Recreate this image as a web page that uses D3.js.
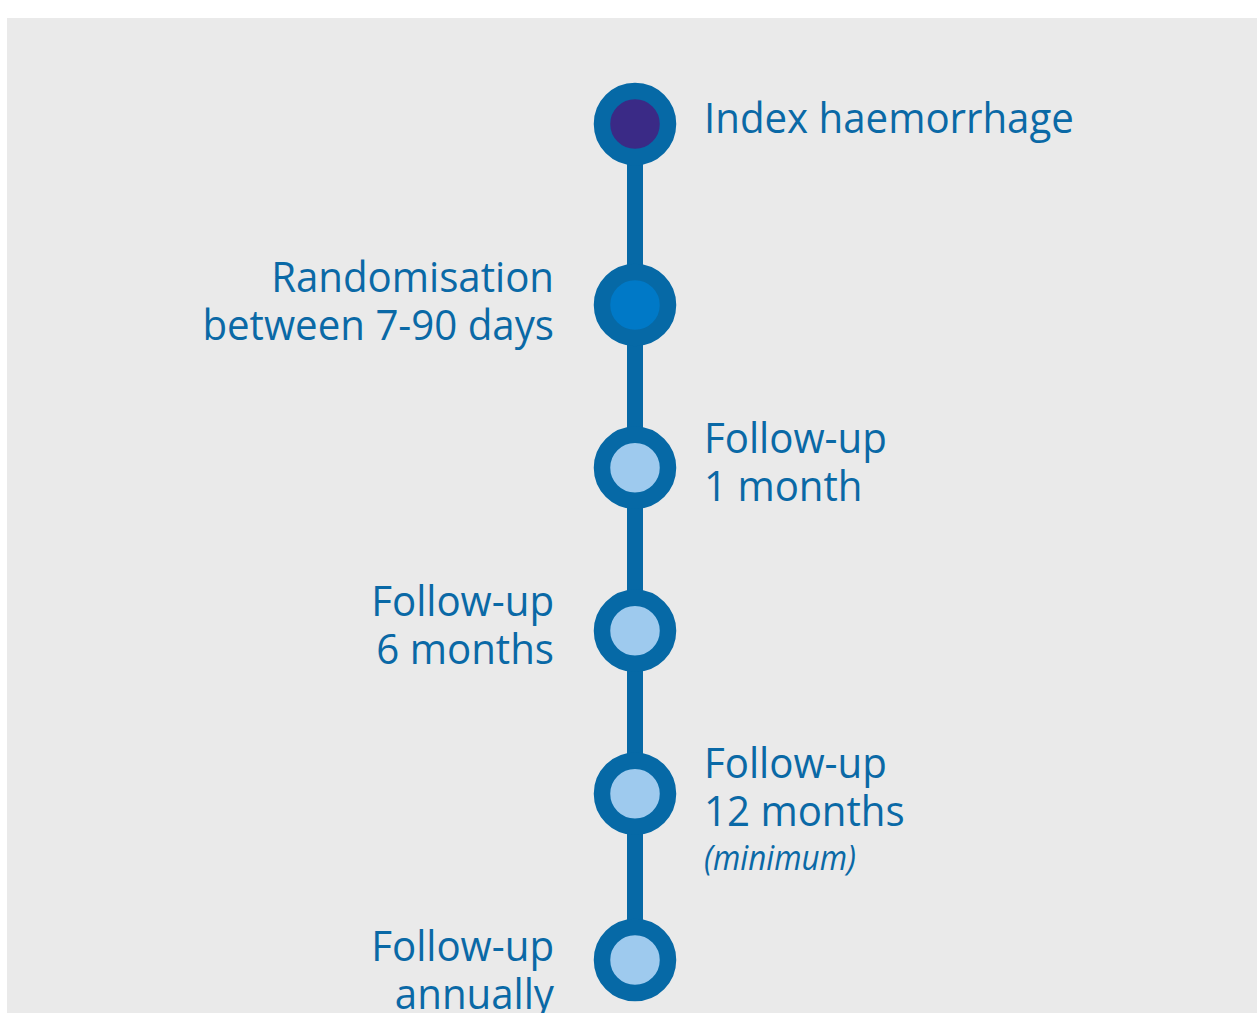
<!DOCTYPE html>
<html>
<head>
<meta charset="utf-8">
<script src="https://cdn.jsdelivr.net/npm/d3@7"></script>
<style>
  body { margin: 0; background: #fff; }
  svg { display: block; }
</style>
</head>
<body>
<div id="timeline"></div>
<script>
// timeline stages, top to bottom
const stages = ["Index haemorrhage", "Randomisation", "Follow-up 1 month", "Follow-up 6 months", "Follow-up 12 months", "Follow-up annually"];
// relative position of each stage along the line (first gap is a bit longer)
const stageStep = [0, 1.11, 2.11, 3.11, 4.11, 5.13];
const stageFill = ["#3a2a86", "#0079c7", "#9ecaee", "#9ecaee", "#9ecaee", "#9ecaee"];
const labelSide = ["right", "left", "right", "left", "right", "left"];
const labelLines = [
    ["Index haemorrhage"],
    ["Randomisation", "between 7-90 days"],
    ["Follow-up", "1 month"],
    ["Follow-up", "6 months"],
    ["Follow-up", "12 months"],
    ["Follow-up", "annually"]
];
const labelNote = ["", "", "", "", "(minimum)", ""];

const W = 1257, H = 1013;
const lineX = 635;
const blue = "#0669a6";
const textBlue = "#0a69a6";
// baseline of first line, relative to the circle centre
const labelShift = [9, -13, -15, -15, -16, 1];

const data = stages.map((s, i) => ({
    name: s, step: stageStep[i], fill: stageFill[i],
    side: labelSide[i], lines: labelLines[i], note: labelNote[i], shift: labelShift[i]
}));

const svg = d3.select("#timeline")
    .append("svg")
    .attr("width", W)
    .attr("height", H);

svg.append("rect")
    .attr("x", 7)
    .attr("y", 18)
    .attr("width", W - 7)
    .attr("height", H - 18)
    .attr("fill", "#eaeaea");

const yScale = d3.scaleLinear()
    .domain([0, 5.13])
    .range([124, 960]);

svg.append("line")
    .attr("x1", lineX)
    .attr("x2", lineX)
    .attr("y1", yScale(d3.min(stageStep)))
    .attr("y2", yScale(d3.max(stageStep)))
    .attr("stroke", blue)
    .attr("stroke-width", 16);

svg.selectAll(".stage")
    .data(data)
    .enter()
    .append("circle")
    .attr("class", "stage")
    .attr("cx", lineX)
    .attr("cy", d => yScale(d.step))
    .attr("r", 33)
    .attr("fill", d => d.fill)
    .attr("stroke", blue)
    .attr("stroke-width", 16.5);

// labels
const fontSize = 42, lineH = 48;
const labels = svg.selectAll(".label")
    .data(data)
    .enter()
    .append("g")
    .attr("class", "label");

labels.each(function(d) {
    const g = d3.select(this);
    const x = d.side == "right" ? 704 : 554;
    const anchor = d.side == "right" ? "start" : "end";
    const y0 = yScale(d.step) + d.shift;
    d.lines.forEach((ln, j) => {
        g.append("text")
            .attr("class", "main")
            .attr("data-x", x)
            .attr("data-y", y0 + j * lineH)
            .attr("text-anchor", anchor)
            .attr("font-family", "'Open Sans', sans-serif")
            .attr("font-size", fontSize)
            .attr("fill", textBlue)
            .text(ln);
    });
    if (d.note) {
        g.append("text")
            .attr("class", "note")
            .attr("data-x", x)
            .attr("data-y", y0 + d.lines.length * lineH - 4)
            .attr("text-anchor", anchor)
            .attr("font-family", "'Open Sans', sans-serif")
            .attr("font-style", "italic")
            .attr("font-size", 35)
            .attr("fill", textBlue)
            .text(d.note);
    }
});

// squeeze wide substitute font towards the narrower original lettering
const ref = svg.select("text.main").node().getComputedTextLength();
const sx = 370 / ref;
svg.selectAll("text.main")
    .attr("transform", function() {
        return `translate(${this.getAttribute("data-x")},${this.getAttribute("data-y")}) scale(${sx},1)`;
    });
svg.selectAll("text.note")
    .attr("transform", function() {
        const w = this.getComputedTextLength();
        return `translate(${this.getAttribute("data-x")},${this.getAttribute("data-y")}) scale(${152 / w},1)`;
    });
</script>
</body>
</html>
